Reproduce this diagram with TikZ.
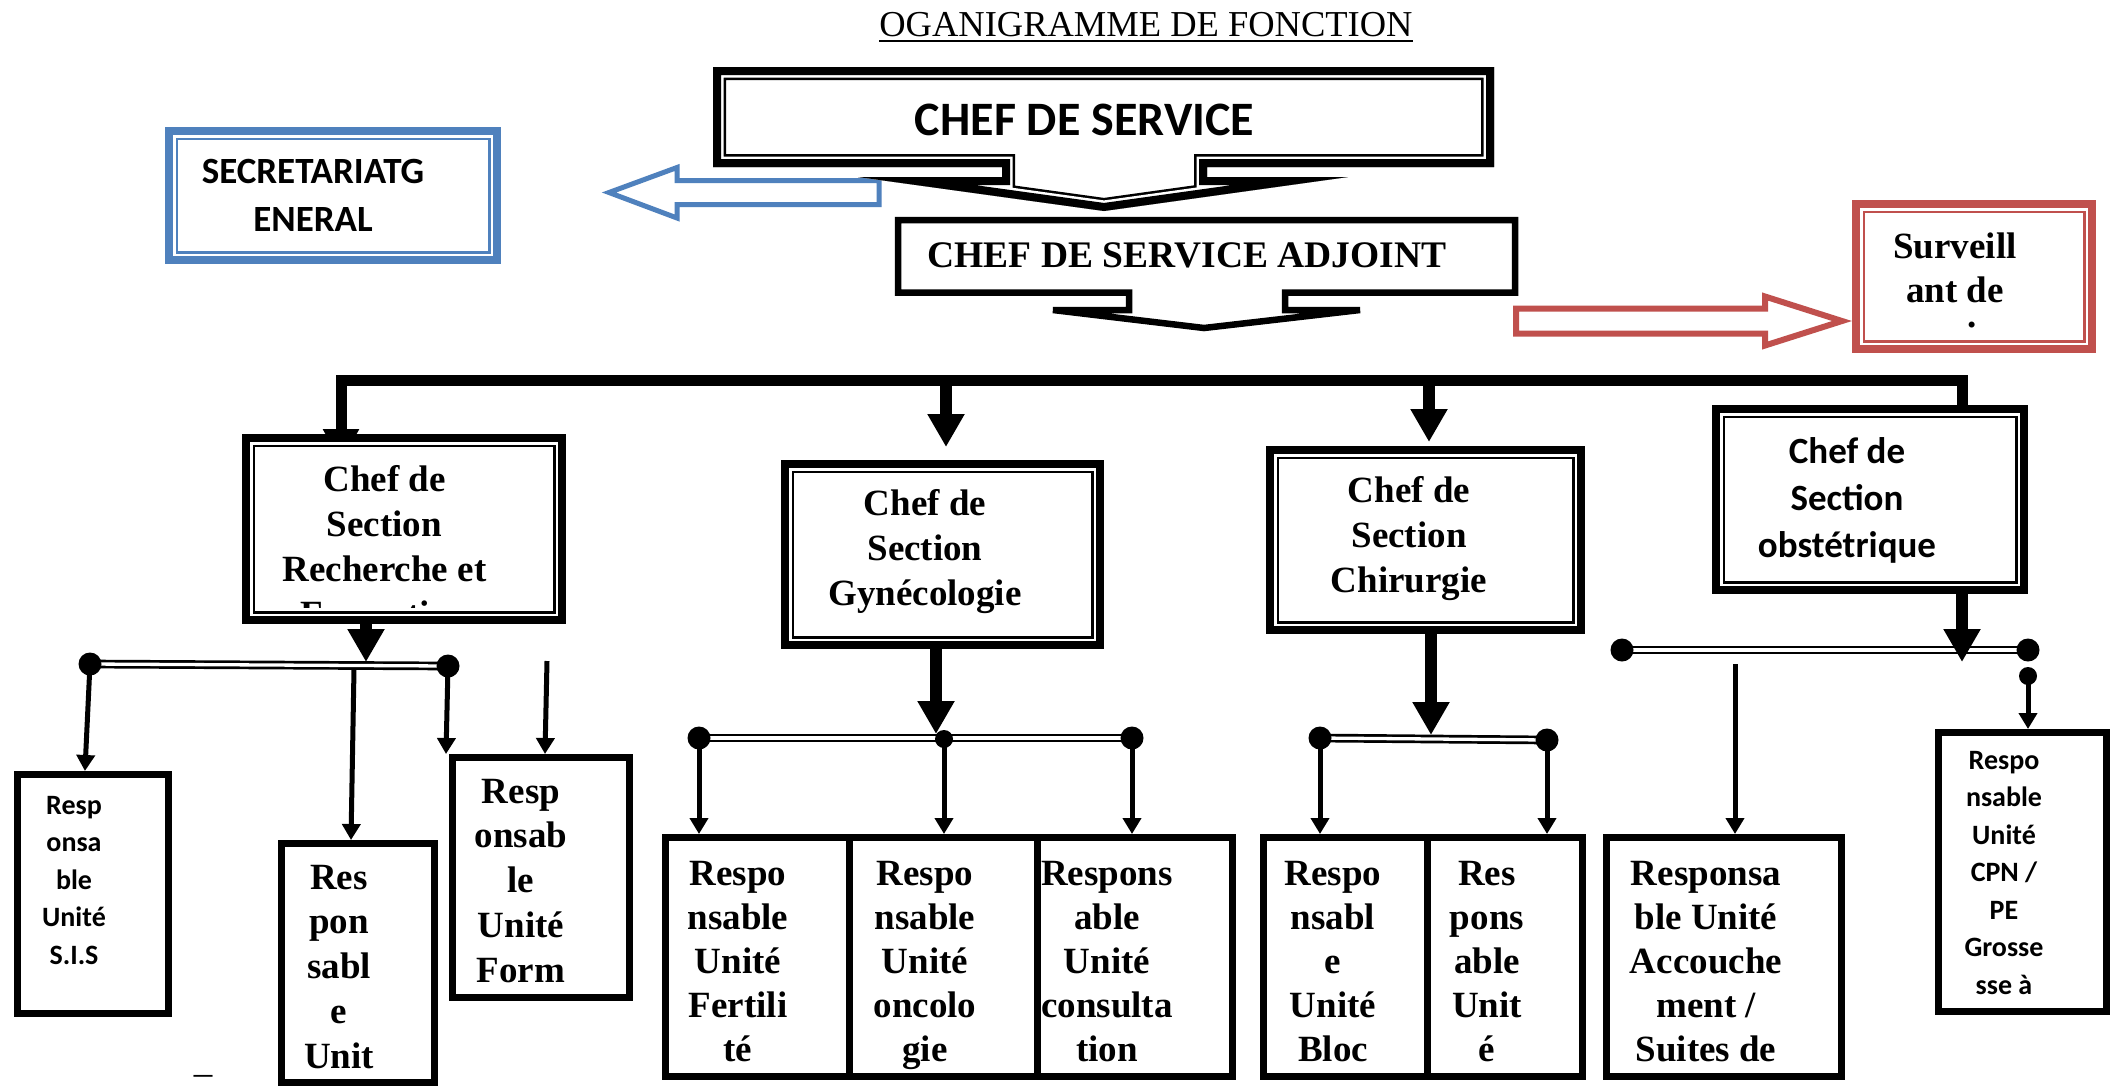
\documentclass[tikz,border=0pt]{standalone}
\usepackage{fontspec}
\setmainfont{Liberation Serif}
\newfontfamily\tnr{Liberation Serif}
\newfontfamily\carl{Carlito}
\usetikzlibrary{arrows.meta,calc}
\definecolor{ablue}{HTML}{4F81BD}
\definecolor{ared}{HTML}{C0504D}
\pgfdeclarelayer{back}
\pgfdeclarelayer{bg}
\pgfsetlayers{back,bg,main}
\tikzset{
  tb/.style={font=\tnr\bfseries\fontsize{37}{#1}\selectfont, align=center, inner sep=0pt, anchor=north},
  cb/.style 2 args={font=\carl\bfseries\fontsize{#1}{#2}\selectfont, align=center, inner sep=0pt, anchor=north},
  secbox/.style={draw, line width=8pt, fill=white, inner sep=0pt},
  insetbox/.style={draw, line width=2.5pt, inner sep=0pt},
  subbox/.style={draw, line width=7pt, fill=white, inner sep=0pt},
  bigarr/.style={line width=12pt, -{Triangle[width=35pt,length=33pt]}},
  thinarr/.style={line width=5pt, -{Triangle[width=18pt,length=16pt]}},
  subbus/.style={line width=2.7pt, double=white, double distance=3.3pt},
  bigdot/.style={circle, fill, inner sep=0pt, minimum size=23pt},
  smalldot/.style={circle, fill, inner sep=0pt, minimum size=18pt},
  cdspath/.style={insert path={(713,67) -- (1494,67) -- (1494,167) -- (1207,167) -- (1207,177) -- (1348,177) -- (1104,211) -- (858,177) -- (1002,177) -- (1002,167) -- (713,167) -- cycle}}
}
\begin{document}
\begin{tikzpicture}[x=1pt,y=-1pt]
\useasboundingbox (0,0) rectangle (2123,1088);
\begin{pgfonlayer}{back}\fill[white] (0,0) rectangle (2123,1088);\end{pgfonlayer}

% title
\node[font=\tnr\fontsize{36.5}{43}\selectfont, inner sep=0pt, anchor=base] (title) at (1146,36) {OGANIGRAMME DE FONCTION};
\draw[line width=2pt] ($(title.base west)+(0,4.7)$) -- ($(title.base east)+(0,4.7)$);

% blue block arrow
\draw[ablue, line width=5pt, fill=white] (879,180.5) -- (677,180.5) -- (677,167.5) -- (609,192.5) -- (677,218) -- (677,204.5) -- (879,204.5) -- cycle;

% chef de service callout (thick-thin line)
\begin{scope}
  \clip[cdspath];
  \fill[white, cdspath];
  \draw[line width=26pt, cdspath];
  \draw[white, line width=21pt, cdspath];
  \draw[line width=16pt, cdspath];
\end{scope}
\node[font=\carl\bfseries\fontsize{48}{56}\selectfont, inner sep=0pt, anchor=base] (cdsT) at (1084.5,135) {CHEF DE SERVICE};

% adjoint callout
\draw[line width=6.5pt, fill=white] (898,220) -- (1515,220) -- (1515,292.5) -- (1285,292.5) -- (1285,310) -- (1360,310) -- (1204,328) -- (1053,310) -- (1129,310) -- (1129,292.5) -- (898,292.5) -- cycle;
\node[font=\tnr\bfseries\fontsize{37.5}{45}\selectfont, inner sep=0pt, anchor=base] (adjT) at (1187,267) {CHEF DE SERVICE ADJOINT};

% red block arrow
\draw[ared, line width=6pt, fill=white] (1516,308.5) -- (1765,308.5) -- (1765,296.5) -- (1842,321) -- (1765,345.5) -- (1765,333.5) -- (1516,333.5) -- cycle;

% secretariat
\node[secbox, draw=ablue, minimum width=328pt, minimum height=129pt] (secr) at (333,195.5) {};
\node[insetbox, draw=ablue, minimum width=312.5pt, minimum height=113.5pt] (secrIn) at (333,195.5) {};
\node[cb={37}{48}] (secT) at (313,149.4) {\strut SECRETARIATG\\ENERAL};

% surveillant
\node[secbox, draw=ared, minimum width=236pt, minimum height=145pt] (surv) at (1974,276.5) {};
\node[insetbox, draw=ared, minimum width=220.5pt, minimum height=129.5pt] (survIn) at (1974,276.5) {};
\node[tb=44] (survT) at (1955,227.2) {\strut Surveill\\ant de\\[-19pt]\hspace*{34pt}.};

% section boxes
\node[secbox, minimum width=316pt, minimum height=182pt] (rech) at (404,529) {};
\node[insetbox, minimum width=300.5pt, minimum height=166.5pt] (rechIn) at (404,529) {};
\node[secbox, minimum width=315pt, minimum height=181pt] (gyn) at (942.5,554.5) {};
\node[insetbox, minimum width=299.5pt, minimum height=165.5pt] (gynIn) at (942.5,554.5) {};
\node[secbox, minimum width=311pt, minimum height=180pt] (chir) at (1425.5,540) {};
\node[insetbox, minimum width=295.5pt, minimum height=164.5pt] (chirIn) at (1425.5,540) {};
\node[secbox, minimum width=308pt, minimum height=181pt] (obst) at (1870,499.5) {};
\node[insetbox, minimum width=292.5pt, minimum height=165.5pt] (obstIn) at (1870,499.5) {};

\begin{scope}
  \clip ($(rech.north west)+(9,9)$) rectangle ($(rech.south east)+(-9,-17)$);
  \node[tb=45] (rechT) at (384.5,459.5) {\strut Chef de\\Section\\Recherche et\\Formation};
\end{scope}
\node[tb=45] (gynT) at (925,483.5) {\strut Chef de\\Section\\Gynécologie};
\node[tb=45] (chirT) at (1409,470.5) {\strut Chef de\\Section\\Chirurgie};
\node[cb={37}{47}] (obstT) at (1847,430.6) {\strut Chef de\\Section\\obstétrique};

% unit boxes
\node[subbox, minimum width=151pt, minimum height=239pt] (sis) at (93,894) {};
\node[subbox, minimum width=153pt, minimum height=239pt] (respon) at (358,963) {};
\node[subbox, minimum width=177pt, minimum height=240pt] (form) at (541,877.5) {};
\node[subbox, minimum width=183.5pt, minimum height=239pt] (g1) at (757.25,957) {};
\node[subbox, minimum width=188pt, minimum height=239pt] (g2) at (943,957) {};
\node[subbox, minimum width=195.5pt, minimum height=239pt] (g3) at (1134.75,957) {};
\node[subbox, minimum width=163.5pt, minimum height=239pt] (c1) at (1345.25,957) {};
\node[subbox, minimum width=155.5pt, minimum height=239pt] (c2) at (1504.75,957) {};
\node[subbox, minimum width=235pt, minimum height=239pt] (acc) at (1724,957) {};
\node[subbox, minimum width=168pt, minimum height=279pt] (cpn) at (2022.5,872) {};

\node[cb={28}{37.5}] (sisT) at (74,787.75) {\strut Resp\\onsa\\ble\\Unité\\S.I.S};
\node[tb=44.75] (resT) at (339,857.7) {\strut Res\\pon\\sabl\\e\\Unit};
\node[tb=44.75] (formT) at (521,771.7) {\strut Resp\\onsab\\le\\Unité\\Form};
\node[tb=44] (g1T) at (738,854.2) {\strut Respo\\nsable\\Unité\\Fertili\\té};
\node[tb=44] (g2T) at (925,854.2) {\strut Respo\\nsable\\Unité\\oncolo\\gie};
\node[tb=44] (g3T) at (1107,854.2) {\strut Respons\\able\\Unité\\consulta\\tion};
\node[tb=44] (c1T) at (1333,854.2) {\strut Respo\\nsabl\\e\\Unité\\Bloc};
\node[tb=44] (c2T) at (1487,854.2) {\strut Res\\pons\\able\\Unit\\é};
\node[tb=44] (accT) at (1706,854.2) {\strut Responsa\\ble Unité\\Accouche\\ment /\\Suites de};
\node[cb={28}{37.5}] (cpnT) at (2004,742.75) {\strut Respo\\nsable\\Unité\\CPN /\\PE\\Grosse\\sse à};

\node[font=\tnr\fontsize{37}{44}\selectfont, inner sep=0pt, anchor=base] (dash) at (203,1072) {\_};

% coordinates
\coordinate (bL) at (341,380);
\coordinate (bR) at (1962,380);
\coordinate (bG) at (946,380);
\coordinate (bC) at (1429,380);
\coordinate (rL) at (90,664);
\coordinate (rR) at (448,666);
\coordinate (rA) at (366,662);
\coordinate (rM) at (354,669);
\coordinate (rF) at (547,661);
\coordinate (gL) at (699,738);
\coordinate (gR) at (1132,738);
\coordinate (gM) at (944,739);
\coordinate (gA) at (936,734);
\coordinate (cL) at (1320,738);
\coordinate (cR) at (1547,740);
\coordinate (cA) at (1431,735);
\coordinate (oL) at (1622,650);
\coordinate (oR) at (2028,650);
\coordinate (oA) at (1962,662);
\coordinate (oS) at (2028,676);
\coordinate (oF) at (1735,664);

% dots
\node[bigdot] (rLd) at (rL) {};
\node[bigdot] (rRd) at (rR) {};
\node[bigdot] (gLd) at (gL) {};
\node[bigdot] (gRd) at (gR) {};
\node[smalldot] (gMd) at (gM) {};
\node[bigdot] (cLd) at (cL) {};
\node[bigdot] (cRd) at (cR) {};
\node[bigdot] (oLd) at (oL) {};
\node[bigdot] (oRd) at (oR) {};
\node[smalldot] (oSd) at (oS) {};

\begin{pgfonlayer}{bg}
  % main bus
  \draw[line width=11pt, {Triangle[width=34pt,length=34pt]}-] ($(rech.north -| bL)+(0,29)$) -- (bL) -- (bR) -- (obst.north -| bR);
  \draw[bigarr] (bG) -- ($(bG |- gyn.north)+(0,-13)$);
  \draw[bigarr] (bC) -- ($(bC |- chir.north)+(0,-4)$);
  % sub buses
  \draw[subbus] (rL) -- (rR);
  \draw[subbus] (gL) -- (gR);
  \draw[subbus] (cL) -- (cR);
  \draw[subbus] (oL) -- (oR);
  % section arrows
  \draw[bigarr] (rech.south -| rA) -- (rA);
  \draw[bigarr] (gyn.south -| gA) -- (gA);
  \draw[bigarr] (chir.south -| cA) -- (cA);
  \draw[bigarr] (obst.south -| oA) -- (oA);
  % unit arrows
  \draw[thinarr] (rL) -- ($(sis.north west)!0.449!(sis.north east)$);
  \draw[thinarr] (rM) -- ($(respon.north)+(-7,0)$);
  \draw[thinarr] (rR) -- ($(form.north west)+(-3,0)$);
  \draw[thinarr] (rF) -- ($(form.north)+(4,0)$);
  \draw[thinarr] (gL) -- (g1.north -| gL);
  \draw[thinarr] (gM) -- (g2.north -| gM);
  \draw[thinarr] (gR) -- (g3.north -| gR);
  \draw[thinarr] (cL) -- (c1.north -| cL);
  \draw[thinarr] (cR) -- (c2.north -| cR);
  \draw[thinarr] (oS) -- (cpn.north -| oS);
  \draw[thinarr] (oF) -- (acc.north -| oF);
\end{pgfonlayer}
\end{tikzpicture}
\end{document}
